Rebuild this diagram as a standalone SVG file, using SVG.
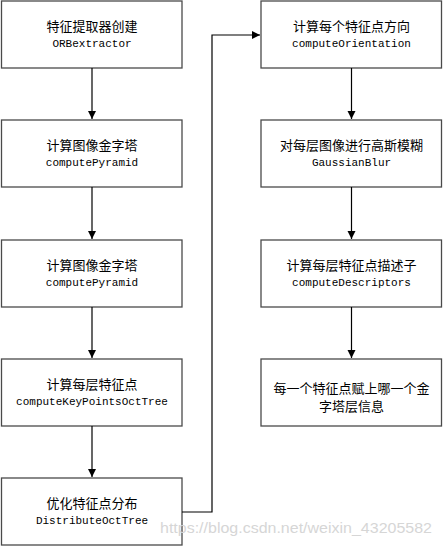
<svg xmlns="http://www.w3.org/2000/svg" width="443" height="547" viewBox="0 0 443 547">
<style>
.box{fill:#fff;stroke:#4a4a4a;stroke-width:1.3}
.zh{font-family:"Noto Sans CJK SC","Noto Sans",sans-serif;font-size:13px;fill:#000;text-anchor:middle}
.code{font-family:"Liberation Mono","DejaVu Sans Mono",monospace;font-size:11px;fill:#000;text-anchor:middle}
.con{fill:none;stroke:#000;stroke-width:1.2}
.wm{font-family:"Liberation Sans",Arial,sans-serif;font-size:15px;fill:#d6d6d6}
</style>
<defs>
<marker id="arr" viewBox="0 0 10 10" refX="10" refY="5" markerWidth="8" markerHeight="10" markerUnits="userSpaceOnUse" orient="auto">
<path d="M0,0 L10,5 L0,10 z" fill="#000"/>
</marker>
</defs>
<rect width="443" height="547" fill="#fff"/>
<g id="n1"><rect class="box" x="1.5" y="1" width="180.5" height="67"/><text class="zh" x="92" y="31">特征提取器创建</text><text class="code" x="92" y="47">ORBextractor</text></g>
<g id="n2"><rect class="box" x="1.5" y="120" width="180.5" height="67"/><text class="zh" x="92" y="150">计算图像金字塔</text><text class="code" x="92" y="166">computePyramid</text></g>
<g id="n3"><rect class="box" x="1.5" y="240" width="180.5" height="67"/><text class="zh" x="92" y="270">计算图像金字塔</text><text class="code" x="92" y="286">computePyramid</text></g>
<g id="n4"><rect class="box" x="1.5" y="359" width="180.5" height="67"/><text class="zh" x="92" y="389">计算每层特征点</text><text class="code" x="92" y="405">computeKeyPointsOctTree</text></g>
<g id="n5"><rect class="box" x="1.5" y="478" width="180.5" height="67"/><text class="zh" x="92" y="508">优化特征点分布</text><text class="code" x="92" y="524">DistributeOctTree</text></g>
<g id="n6"><rect class="box" x="261" y="1" width="180.5" height="67"/><text class="zh" x="351.5" y="31">计算每个特征点方向</text><text class="code" x="351.5" y="47">computeOrientation</text></g>
<g id="n7"><rect class="box" x="261" y="120" width="180.5" height="67"/><text class="zh" x="351.5" y="150">对每层图像进行高斯模糊</text><text class="code" x="351.5" y="166">GaussianBlur</text></g>
<g id="n8"><rect class="box" x="261" y="240" width="180.5" height="67"/><text class="zh" x="351.5" y="270">计算每层特征点描述子</text><text class="code" x="351.5" y="286">computeDescriptors</text></g>
<g id="n9"><rect class="box" x="261" y="359" width="180.5" height="67"/><text class="zh" x="351.5" y="393">每一个特征点赋上哪一个金</text><text class="zh" x="351.5" y="411">字塔层信息</text></g>
<g id="connectors">
<line class="con" x1="92" y1="68" x2="92" y2="119" marker-end="url(#arr)"/>
<line class="con" x1="92" y1="187" x2="92" y2="239" marker-end="url(#arr)"/>
<line class="con" x1="92" y1="307" x2="92" y2="358" marker-end="url(#arr)"/>
<line class="con" x1="92" y1="426" x2="92" y2="477" marker-end="url(#arr)"/>
<polyline class="con" points="182,512 212,512 212,35 260,35" marker-end="url(#arr)"/>
<line class="con" x1="351.5" y1="68" x2="351.5" y2="119" marker-end="url(#arr)"/>
<line class="con" x1="351.5" y1="187" x2="351.5" y2="239" marker-end="url(#arr)"/>
<line class="con" x1="351.5" y1="307" x2="351.5" y2="358" marker-end="url(#arr)"/>
</g>
<text class="wm" x="160" y="533" textLength="272" lengthAdjust="spacingAndGlyphs">https://blog.csdn.net/weixin_43205582</text>
</svg>
